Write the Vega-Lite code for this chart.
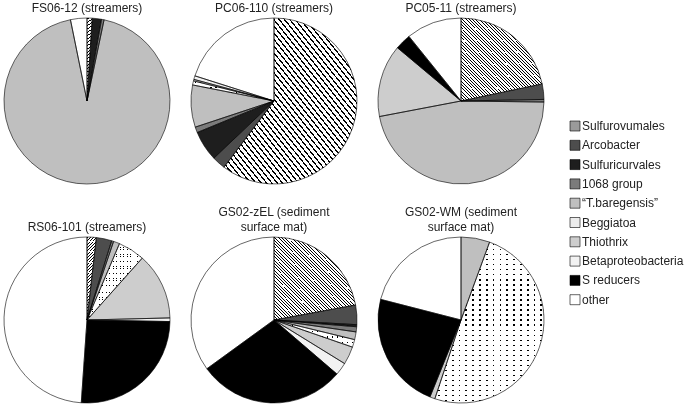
{
  "$schema": "https://vega.github.io/schema/vega-lite/v6.json",
  "padding": {"left": 2, "top": -14, "right": 0, "bottom": 0},
  "background": "white",
  "data": {"values": [
    {"sample": "FS06-12 (streamers)", "group": "Sulfurovumales", "k": 1, "value": 1.0},
    {"sample": "FS06-12 (streamers)", "group": "Sulfuricurvales", "k": 3, "value": 1.8},
    {"sample": "FS06-12 (streamers)", "group": "1068 group", "k": 4, "value": 0.5},
    {"sample": "FS06-12 (streamers)", "group": "“T.baregensis”", "k": 5, "value": 93.5},
    {"sample": "FS06-12 (streamers)", "group": "other", "k": 10, "value": 3.2},
    {"sample": "PC06-110 (streamers)", "group": "Sulfurovumales", "k": 1, "value": 60.3},
    {"sample": "PC06-110 (streamers)", "group": "Arcobacter", "k": 2, "value": 2.6},
    {"sample": "PC06-110 (streamers)", "group": "Sulfuricurvales", "k": 3, "value": 5.9},
    {"sample": "PC06-110 (streamers)", "group": "1068 group", "k": 4, "value": 1.1},
    {"sample": "PC06-110 (streamers)", "group": "“T.baregensis”", "k": 5, "value": 8.2},
    {"sample": "PC06-110 (streamers)", "group": "Beggiatoa", "k": 6, "value": 0.8},
    {"sample": "PC06-110 (streamers)", "group": "Thiothrix", "k": 7, "value": 0.3},
    {"sample": "PC06-110 (streamers)", "group": "Betaproteobacteria", "k": 8, "value": 0.7},
    {"sample": "PC06-110 (streamers)", "group": "other", "k": 10, "value": 20.1},
    {"sample": "PC05-11 (streamers)", "group": "Sulfurovumales", "k": 1, "value": 21.7},
    {"sample": "PC05-11 (streamers)", "group": "Arcobacter", "k": 2, "value": 3.0},
    {"sample": "PC05-11 (streamers)", "group": "1068 group", "k": 4, "value": 0.5},
    {"sample": "PC05-11 (streamers)", "group": "“T.baregensis”", "k": 5, "value": 46.8},
    {"sample": "PC05-11 (streamers)", "group": "Thiothrix", "k": 7, "value": 14.1},
    {"sample": "PC05-11 (streamers)", "group": "S reducers", "k": 9, "value": 3.1},
    {"sample": "PC05-11 (streamers)", "group": "other", "k": 10, "value": 10.8},
    {"sample": "RS06-101 (streamers)", "group": "Sulfurovumales", "k": 1, "value": 1.8},
    {"sample": "RS06-101 (streamers)", "group": "Arcobacter", "k": 2, "value": 3.0},
    {"sample": "RS06-101 (streamers)", "group": "1068 group", "k": 4, "value": 0.4},
    {"sample": "RS06-101 (streamers)", "group": "“T.baregensis”", "k": 5, "value": 1.2},
    {"sample": "RS06-101 (streamers)", "group": "Beggiatoa", "k": 6, "value": 5.2},
    {"sample": "RS06-101 (streamers)", "group": "Thiothrix", "k": 7, "value": 13.0},
    {"sample": "RS06-101 (streamers)", "group": "Betaproteobacteria", "k": 8, "value": 0.7},
    {"sample": "RS06-101 (streamers)", "group": "S reducers", "k": 9, "value": 25.8},
    {"sample": "RS06-101 (streamers)", "group": "other", "k": 10, "value": 48.9},
    {"sample": "GS02-zEL (sediment|surface mat)", "group": "Sulfurovumales", "k": 1, "value": 22.1},
    {"sample": "GS02-zEL (sediment|surface mat)", "group": "Arcobacter", "k": 2, "value": 3.8},
    {"sample": "GS02-zEL (sediment|surface mat)", "group": "Sulfuricurvales", "k": 3, "value": 0.4},
    {"sample": "GS02-zEL (sediment|surface mat)", "group": "1068 group", "k": 4, "value": 1.0},
    {"sample": "GS02-zEL (sediment|surface mat)", "group": "“T.baregensis”", "k": 5, "value": 1.5},
    {"sample": "GS02-zEL (sediment|surface mat)", "group": "Beggiatoa", "k": 6, "value": 1.5},
    {"sample": "GS02-zEL (sediment|surface mat)", "group": "Thiothrix", "k": 7, "value": 3.5},
    {"sample": "GS02-zEL (sediment|surface mat)", "group": "Betaproteobacteria", "k": 8, "value": 2.5},
    {"sample": "GS02-zEL (sediment|surface mat)", "group": "S reducers", "k": 9, "value": 28.7},
    {"sample": "GS02-zEL (sediment|surface mat)", "group": "other", "k": 10, "value": 35.0},
    {"sample": "GS02-WM (sediment|surface mat)", "group": "“T.baregensis”", "k": 5, "value": 5.6},
    {"sample": "GS02-WM (sediment|surface mat)", "group": "Beggiatoa", "k": 6, "value": 49.5},
    {"sample": "GS02-WM (sediment|surface mat)", "group": "Thiothrix", "k": 7, "value": 1.0},
    {"sample": "GS02-WM (sediment|surface mat)", "group": "S reducers", "k": 9, "value": 22.9},
    {"sample": "GS02-WM (sediment|surface mat)", "group": "other", "k": 10, "value": 21.0}
  ]},
  "facet": {
    "field": "sample",
    "type": "nominal",
    "sort": ["FS06-12 (streamers)", "PC06-110 (streamers)", "PC05-11 (streamers)", "RS06-101 (streamers)", "GS02-zEL (sediment|surface mat)", "GS02-WM (sediment|surface mat)"],
    "header": {
      "title": null,
      "labelFont": "Liberation Sans",
      "labelFontSize": 12,
      "labelFontWeight": "normal",
      "labelColor": "#222",
      "labelBaseline": "bottom",
      "labelLineHeight": 15,
      "labelPadding": -10,
      "labelExpr": "indexof(datum.value, '|') < 0 ? ['', datum.value] : split(datum.value, '|')"
    }
  },
  "columns": 3,
  "bounds": "flush",
  "spacing": {"column": 21, "row": 53},
  "spec": {
    "width": 166,
    "height": 166,
    "transform": [
      {"stack": "value", "groupby": ["sample"], "sort": [{"field": "k", "order": "ascending"}], "as": ["v0", "v1"]}
    ],
    "layer": [
      {
        "mark": {"type": "arc", "strokeWidth": 0},
        "encoding": {
          "theta": {"field": "v0", "type": "quantitative", "scale": {"domain": [0, 100]}},
          "theta2": {"field": "v1"},
          "fill": {
            "field": "group",
            "type": "nominal",
            "scale": {
              "domain": ["Sulfurovumales", "Arcobacter", "Sulfuricurvales", "1068 group", "“T.baregensis”", "Beggiatoa", "Thiothrix", "Betaproteobacteria", "S reducers", "other"],
              "range": ["#9a9a9a", "#4d4d4d", "#1e1e1e", "#7b7b7b", "#bfbfbf", "#ececec", "#cdcdcd", "#f2f2f2", "#000000", "#ffffff"]
            },
            "legend": {
              "title": null,
              "orient": "none",
              "legendX": 565,
              "legendY": 102,
              "symbolType": "square",
              "symbolSize": 100,
              "symbolStrokeColor": "black",
              "symbolStrokeWidth": 0.6,
              "labelFont": "Liberation Sans",
              "labelFontSize": 12,
              "labelColor": "#222",
              "labelOffset": 1,
              "rowPadding": 5.3
            }
          }
        }
      },
      {
        "transform": [{"filter": "datum.group === 'Sulfurovumales'"}],
        "mark": {"type": "arc", "strokeWidth": 0,
          "fill": {"gradient": "linear", "x1": 0, "y1": 1, "x2": 1, "y2": 0, "stops": [
              {"offset": 0, "color": "#000"}, {"offset": 0.006, "color": "#000"}, {"offset": 0.006, "color": "#fff"}, {"offset": 0.02, "color": "#fff"},
              {"offset": 0.02, "color": "#000"}, {"offset": 0.026, "color": "#000"}, {"offset": 0.026, "color": "#fff"}, {"offset": 0.04, "color": "#fff"},
              {"offset": 0.04, "color": "#000"}, {"offset": 0.046, "color": "#000"}, {"offset": 0.046, "color": "#fff"}, {"offset": 0.06, "color": "#fff"},
              {"offset": 0.06, "color": "#000"}, {"offset": 0.066, "color": "#000"}, {"offset": 0.066, "color": "#fff"}, {"offset": 0.08, "color": "#fff"},
              {"offset": 0.08, "color": "#000"}, {"offset": 0.086, "color": "#000"}, {"offset": 0.086, "color": "#fff"}, {"offset": 0.1, "color": "#fff"},
              {"offset": 0.1, "color": "#000"}, {"offset": 0.106, "color": "#000"}, {"offset": 0.106, "color": "#fff"}, {"offset": 0.12, "color": "#fff"},
              {"offset": 0.12, "color": "#000"}, {"offset": 0.126, "color": "#000"}, {"offset": 0.126, "color": "#fff"}, {"offset": 0.14, "color": "#fff"},
              {"offset": 0.14, "color": "#000"}, {"offset": 0.146, "color": "#000"}, {"offset": 0.146, "color": "#fff"}, {"offset": 0.16, "color": "#fff"},
              {"offset": 0.16, "color": "#000"}, {"offset": 0.166, "color": "#000"}, {"offset": 0.166, "color": "#fff"}, {"offset": 0.18, "color": "#fff"},
              {"offset": 0.18, "color": "#000"}, {"offset": 0.186, "color": "#000"}, {"offset": 0.186, "color": "#fff"}, {"offset": 0.2, "color": "#fff"},
              {"offset": 0.2, "color": "#000"}, {"offset": 0.206, "color": "#000"}, {"offset": 0.206, "color": "#fff"}, {"offset": 0.22, "color": "#fff"},
              {"offset": 0.22, "color": "#000"}, {"offset": 0.226, "color": "#000"}, {"offset": 0.226, "color": "#fff"}, {"offset": 0.24, "color": "#fff"},
              {"offset": 0.24, "color": "#000"}, {"offset": 0.246, "color": "#000"}, {"offset": 0.246, "color": "#fff"}, {"offset": 0.26, "color": "#fff"},
              {"offset": 0.26, "color": "#000"}, {"offset": 0.266, "color": "#000"}, {"offset": 0.266, "color": "#fff"}, {"offset": 0.28, "color": "#fff"},
              {"offset": 0.28, "color": "#000"}, {"offset": 0.286, "color": "#000"}, {"offset": 0.286, "color": "#fff"}, {"offset": 0.3, "color": "#fff"},
              {"offset": 0.3, "color": "#000"}, {"offset": 0.306, "color": "#000"}, {"offset": 0.306, "color": "#fff"}, {"offset": 0.32, "color": "#fff"},
              {"offset": 0.32, "color": "#000"}, {"offset": 0.326, "color": "#000"}, {"offset": 0.326, "color": "#fff"}, {"offset": 0.34, "color": "#fff"},
              {"offset": 0.34, "color": "#000"}, {"offset": 0.346, "color": "#000"}, {"offset": 0.346, "color": "#fff"}, {"offset": 0.36, "color": "#fff"},
              {"offset": 0.36, "color": "#000"}, {"offset": 0.366, "color": "#000"}, {"offset": 0.366, "color": "#fff"}, {"offset": 0.38, "color": "#fff"},
              {"offset": 0.38, "color": "#000"}, {"offset": 0.386, "color": "#000"}, {"offset": 0.386, "color": "#fff"}, {"offset": 0.4, "color": "#fff"},
              {"offset": 0.4, "color": "#000"}, {"offset": 0.406, "color": "#000"}, {"offset": 0.406, "color": "#fff"}, {"offset": 0.42, "color": "#fff"},
              {"offset": 0.42, "color": "#000"}, {"offset": 0.426, "color": "#000"}, {"offset": 0.426, "color": "#fff"}, {"offset": 0.44, "color": "#fff"},
              {"offset": 0.44, "color": "#000"}, {"offset": 0.446, "color": "#000"}, {"offset": 0.446, "color": "#fff"}, {"offset": 0.46, "color": "#fff"},
              {"offset": 0.46, "color": "#000"}, {"offset": 0.466, "color": "#000"}, {"offset": 0.466, "color": "#fff"}, {"offset": 0.48, "color": "#fff"},
              {"offset": 0.48, "color": "#000"}, {"offset": 0.486, "color": "#000"}, {"offset": 0.486, "color": "#fff"}, {"offset": 0.5, "color": "#fff"},
              {"offset": 0.5, "color": "#000"}, {"offset": 0.506, "color": "#000"}, {"offset": 0.506, "color": "#fff"}, {"offset": 0.52, "color": "#fff"},
              {"offset": 0.52, "color": "#000"}, {"offset": 0.526, "color": "#000"}, {"offset": 0.526, "color": "#fff"}, {"offset": 0.54, "color": "#fff"},
              {"offset": 0.54, "color": "#000"}, {"offset": 0.546, "color": "#000"}, {"offset": 0.546, "color": "#fff"}, {"offset": 0.56, "color": "#fff"},
              {"offset": 0.56, "color": "#000"}, {"offset": 0.566, "color": "#000"}, {"offset": 0.566, "color": "#fff"}, {"offset": 0.58, "color": "#fff"},
              {"offset": 0.58, "color": "#000"}, {"offset": 0.586, "color": "#000"}, {"offset": 0.586, "color": "#fff"}, {"offset": 0.6, "color": "#fff"},
              {"offset": 0.6, "color": "#000"}, {"offset": 0.606, "color": "#000"}, {"offset": 0.606, "color": "#fff"}, {"offset": 0.62, "color": "#fff"},
              {"offset": 0.62, "color": "#000"}, {"offset": 0.626, "color": "#000"}, {"offset": 0.626, "color": "#fff"}, {"offset": 0.64, "color": "#fff"},
              {"offset": 0.64, "color": "#000"}, {"offset": 0.646, "color": "#000"}, {"offset": 0.646, "color": "#fff"}, {"offset": 0.66, "color": "#fff"},
              {"offset": 0.66, "color": "#000"}, {"offset": 0.666, "color": "#000"}, {"offset": 0.666, "color": "#fff"}, {"offset": 0.68, "color": "#fff"},
              {"offset": 0.68, "color": "#000"}, {"offset": 0.686, "color": "#000"}, {"offset": 0.686, "color": "#fff"}, {"offset": 0.7, "color": "#fff"},
              {"offset": 0.7, "color": "#000"}, {"offset": 0.706, "color": "#000"}, {"offset": 0.706, "color": "#fff"}, {"offset": 0.72, "color": "#fff"},
              {"offset": 0.72, "color": "#000"}, {"offset": 0.726, "color": "#000"}, {"offset": 0.726, "color": "#fff"}, {"offset": 0.74, "color": "#fff"},
              {"offset": 0.74, "color": "#000"}, {"offset": 0.746, "color": "#000"}, {"offset": 0.746, "color": "#fff"}, {"offset": 0.76, "color": "#fff"},
              {"offset": 0.76, "color": "#000"}, {"offset": 0.766, "color": "#000"}, {"offset": 0.766, "color": "#fff"}, {"offset": 0.78, "color": "#fff"},
              {"offset": 0.78, "color": "#000"}, {"offset": 0.786, "color": "#000"}, {"offset": 0.786, "color": "#fff"}, {"offset": 0.8, "color": "#fff"},
              {"offset": 0.8, "color": "#000"}, {"offset": 0.806, "color": "#000"}, {"offset": 0.806, "color": "#fff"}, {"offset": 0.82, "color": "#fff"},
              {"offset": 0.82, "color": "#000"}, {"offset": 0.826, "color": "#000"}, {"offset": 0.826, "color": "#fff"}, {"offset": 0.84, "color": "#fff"},
              {"offset": 0.84, "color": "#000"}, {"offset": 0.846, "color": "#000"}, {"offset": 0.846, "color": "#fff"}, {"offset": 0.86, "color": "#fff"},
              {"offset": 0.86, "color": "#000"}, {"offset": 0.866, "color": "#000"}, {"offset": 0.866, "color": "#fff"}, {"offset": 0.88, "color": "#fff"},
              {"offset": 0.88, "color": "#000"}, {"offset": 0.886, "color": "#000"}, {"offset": 0.886, "color": "#fff"}, {"offset": 0.9, "color": "#fff"},
              {"offset": 0.9, "color": "#000"}, {"offset": 0.906, "color": "#000"}, {"offset": 0.906, "color": "#fff"}, {"offset": 0.92, "color": "#fff"},
              {"offset": 0.92, "color": "#000"}, {"offset": 0.926, "color": "#000"}, {"offset": 0.926, "color": "#fff"}, {"offset": 0.94, "color": "#fff"},
              {"offset": 0.94, "color": "#000"}, {"offset": 0.946, "color": "#000"}, {"offset": 0.946, "color": "#fff"}, {"offset": 0.96, "color": "#fff"},
              {"offset": 0.96, "color": "#000"}, {"offset": 0.966, "color": "#000"}, {"offset": 0.966, "color": "#fff"}, {"offset": 0.98, "color": "#fff"},
              {"offset": 0.98, "color": "#000"}, {"offset": 0.986, "color": "#000"}, {"offset": 0.986, "color": "#fff"}, {"offset": 1, "color": "#fff"}
          ]}
        },
        "encoding": {
          "theta": {"field": "v0", "type": "quantitative", "scale": {"domain": [0, 100]}},
          "theta2": {"field": "v1"}
        }
      },
      {
        "transform": [{"filter": "datum.group === 'Beggiatoa'"}],
        "mark": {"type": "arc", "strokeWidth": 0,
          "fill": {"gradient": "linear", "x1": 0, "y1": 0, "x2": 0, "y2": 1, "stops": [
              {"offset": 0, "color": "#fff"}, {"offset": 0.012, "color": "#fff"}, {"offset": 0.012, "color": "#000"}, {"offset": 0.02, "color": "#000"}, {"offset": 0.02, "color": "#fff"},
              {"offset": 0.04325, "color": "#fff"}, {"offset": 0.04325, "color": "#000"}, {"offset": 0.05125, "color": "#000"}, {"offset": 0.05125, "color": "#fff"},
              {"offset": 0.0745, "color": "#fff"}, {"offset": 0.0745, "color": "#000"}, {"offset": 0.0825, "color": "#000"}, {"offset": 0.0825, "color": "#fff"},
              {"offset": 0.10575, "color": "#fff"}, {"offset": 0.10575, "color": "#000"}, {"offset": 0.11375, "color": "#000"}, {"offset": 0.11375, "color": "#fff"},
              {"offset": 0.137, "color": "#fff"}, {"offset": 0.137, "color": "#000"}, {"offset": 0.145, "color": "#000"}, {"offset": 0.145, "color": "#fff"},
              {"offset": 0.16825, "color": "#fff"}, {"offset": 0.16825, "color": "#000"}, {"offset": 0.17625, "color": "#000"}, {"offset": 0.17625, "color": "#fff"},
              {"offset": 0.1995, "color": "#fff"}, {"offset": 0.1995, "color": "#000"}, {"offset": 0.2075, "color": "#000"}, {"offset": 0.2075, "color": "#fff"},
              {"offset": 0.23075, "color": "#fff"}, {"offset": 0.23075, "color": "#000"}, {"offset": 0.23875, "color": "#000"}, {"offset": 0.23875, "color": "#fff"},
              {"offset": 0.262, "color": "#fff"}, {"offset": 0.262, "color": "#000"}, {"offset": 0.27, "color": "#000"}, {"offset": 0.27, "color": "#fff"},
              {"offset": 0.29325, "color": "#fff"}, {"offset": 0.29325, "color": "#000"}, {"offset": 0.30125, "color": "#000"}, {"offset": 0.30125, "color": "#fff"},
              {"offset": 0.3245, "color": "#fff"}, {"offset": 0.3245, "color": "#000"}, {"offset": 0.3325, "color": "#000"}, {"offset": 0.3325, "color": "#fff"},
              {"offset": 0.35575, "color": "#fff"}, {"offset": 0.35575, "color": "#000"}, {"offset": 0.36375, "color": "#000"}, {"offset": 0.36375, "color": "#fff"},
              {"offset": 0.387, "color": "#fff"}, {"offset": 0.387, "color": "#000"}, {"offset": 0.395, "color": "#000"}, {"offset": 0.395, "color": "#fff"},
              {"offset": 0.41825, "color": "#fff"}, {"offset": 0.41825, "color": "#000"}, {"offset": 0.42625, "color": "#000"}, {"offset": 0.42625, "color": "#fff"},
              {"offset": 0.4495, "color": "#fff"}, {"offset": 0.4495, "color": "#000"}, {"offset": 0.4575, "color": "#000"}, {"offset": 0.4575, "color": "#fff"},
              {"offset": 0.48075, "color": "#fff"}, {"offset": 0.48075, "color": "#000"}, {"offset": 0.48875, "color": "#000"}, {"offset": 0.48875, "color": "#fff"},
              {"offset": 0.512, "color": "#fff"}, {"offset": 0.512, "color": "#000"}, {"offset": 0.52, "color": "#000"}, {"offset": 0.52, "color": "#fff"},
              {"offset": 0.54325, "color": "#fff"}, {"offset": 0.54325, "color": "#000"}, {"offset": 0.55125, "color": "#000"}, {"offset": 0.55125, "color": "#fff"},
              {"offset": 0.5745, "color": "#fff"}, {"offset": 0.5745, "color": "#000"}, {"offset": 0.5825, "color": "#000"}, {"offset": 0.5825, "color": "#fff"},
              {"offset": 0.60575, "color": "#fff"}, {"offset": 0.60575, "color": "#000"}, {"offset": 0.61375, "color": "#000"}, {"offset": 0.61375, "color": "#fff"},
              {"offset": 0.637, "color": "#fff"}, {"offset": 0.637, "color": "#000"}, {"offset": 0.645, "color": "#000"}, {"offset": 0.645, "color": "#fff"},
              {"offset": 0.66825, "color": "#fff"}, {"offset": 0.66825, "color": "#000"}, {"offset": 0.67625, "color": "#000"}, {"offset": 0.67625, "color": "#fff"},
              {"offset": 0.6995, "color": "#fff"}, {"offset": 0.6995, "color": "#000"}, {"offset": 0.7075, "color": "#000"}, {"offset": 0.7075, "color": "#fff"},
              {"offset": 0.73075, "color": "#fff"}, {"offset": 0.73075, "color": "#000"}, {"offset": 0.73875, "color": "#000"}, {"offset": 0.73875, "color": "#fff"},
              {"offset": 0.762, "color": "#fff"}, {"offset": 0.762, "color": "#000"}, {"offset": 0.77, "color": "#000"}, {"offset": 0.77, "color": "#fff"},
              {"offset": 0.79325, "color": "#fff"}, {"offset": 0.79325, "color": "#000"}, {"offset": 0.80125, "color": "#000"}, {"offset": 0.80125, "color": "#fff"},
              {"offset": 0.8245, "color": "#fff"}, {"offset": 0.8245, "color": "#000"}, {"offset": 0.8325, "color": "#000"}, {"offset": 0.8325, "color": "#fff"},
              {"offset": 0.85575, "color": "#fff"}, {"offset": 0.85575, "color": "#000"}, {"offset": 0.86375, "color": "#000"}, {"offset": 0.86375, "color": "#fff"},
              {"offset": 0.887, "color": "#fff"}, {"offset": 0.887, "color": "#000"}, {"offset": 0.895, "color": "#000"}, {"offset": 0.895, "color": "#fff"},
              {"offset": 0.91825, "color": "#fff"}, {"offset": 0.91825, "color": "#000"}, {"offset": 0.92625, "color": "#000"}, {"offset": 0.92625, "color": "#fff"},
              {"offset": 0.9495, "color": "#fff"}, {"offset": 0.9495, "color": "#000"}, {"offset": 0.9575, "color": "#000"}, {"offset": 0.9575, "color": "#fff"},
              {"offset": 0.98075, "color": "#fff"}, {"offset": 0.98075, "color": "#000"}, {"offset": 0.98875, "color": "#000"}, {"offset": 0.98875, "color": "#fff"},
              {"offset": 1, "color": "#fff"}
          ]}
        },
        "encoding": {
          "theta": {"field": "v0", "type": "quantitative", "scale": {"domain": [0, 100]}},
          "theta2": {"field": "v1"}
        }
      },
      {
        "transform": [{"filter": "datum.group === 'Beggiatoa'"}],
        "mark": {"type": "arc", "strokeWidth": 0, "blend": "screen",
          "fill": {"gradient": "linear", "x1": 0, "y1": 0, "x2": 1, "y2": 0, "stops": [
              {"offset": 0, "color": "#fff"}, {"offset": 0.03, "color": "#fff"}, {"offset": 0.03, "color": "#000"}, {"offset": 0.046, "color": "#000"}, {"offset": 0.046, "color": "#fff"},
              {"offset": 0.0925, "color": "#fff"}, {"offset": 0.0925, "color": "#000"}, {"offset": 0.1085, "color": "#000"}, {"offset": 0.1085, "color": "#fff"},
              {"offset": 0.155, "color": "#fff"}, {"offset": 0.155, "color": "#000"}, {"offset": 0.171, "color": "#000"}, {"offset": 0.171, "color": "#fff"},
              {"offset": 0.2175, "color": "#fff"}, {"offset": 0.2175, "color": "#000"}, {"offset": 0.2335, "color": "#000"}, {"offset": 0.2335, "color": "#fff"},
              {"offset": 0.28, "color": "#fff"}, {"offset": 0.28, "color": "#000"}, {"offset": 0.296, "color": "#000"}, {"offset": 0.296, "color": "#fff"},
              {"offset": 0.3425, "color": "#fff"}, {"offset": 0.3425, "color": "#000"}, {"offset": 0.3585, "color": "#000"}, {"offset": 0.3585, "color": "#fff"},
              {"offset": 0.405, "color": "#fff"}, {"offset": 0.405, "color": "#000"}, {"offset": 0.421, "color": "#000"}, {"offset": 0.421, "color": "#fff"},
              {"offset": 0.4675, "color": "#fff"}, {"offset": 0.4675, "color": "#000"}, {"offset": 0.4835, "color": "#000"}, {"offset": 0.4835, "color": "#fff"},
              {"offset": 0.53, "color": "#fff"}, {"offset": 0.53, "color": "#000"}, {"offset": 0.546, "color": "#000"}, {"offset": 0.546, "color": "#fff"},
              {"offset": 0.5925, "color": "#fff"}, {"offset": 0.5925, "color": "#000"}, {"offset": 0.6085, "color": "#000"}, {"offset": 0.6085, "color": "#fff"},
              {"offset": 0.655, "color": "#fff"}, {"offset": 0.655, "color": "#000"}, {"offset": 0.671, "color": "#000"}, {"offset": 0.671, "color": "#fff"},
              {"offset": 0.7175, "color": "#fff"}, {"offset": 0.7175, "color": "#000"}, {"offset": 0.7335, "color": "#000"}, {"offset": 0.7335, "color": "#fff"},
              {"offset": 0.78, "color": "#fff"}, {"offset": 0.78, "color": "#000"}, {"offset": 0.796, "color": "#000"}, {"offset": 0.796, "color": "#fff"},
              {"offset": 0.8425, "color": "#fff"}, {"offset": 0.8425, "color": "#000"}, {"offset": 0.8585, "color": "#000"}, {"offset": 0.8585, "color": "#fff"},
              {"offset": 0.905, "color": "#fff"}, {"offset": 0.905, "color": "#000"}, {"offset": 0.921, "color": "#000"}, {"offset": 0.921, "color": "#fff"},
              {"offset": 0.9675, "color": "#fff"}, {"offset": 0.9675, "color": "#000"}, {"offset": 0.9835, "color": "#000"}, {"offset": 0.9835, "color": "#fff"},
              {"offset": 1, "color": "#fff"}
          ]}
        },
        "encoding": {
          "theta": {"field": "v0", "type": "quantitative", "scale": {"domain": [0, 100]}},
          "theta2": {"field": "v1"}
        }
      },
      {
        "mark": {"type": "arc", "filled": false, "stroke": "black", "strokeWidth": 0.6},
        "encoding": {
          "theta": {"field": "v0", "type": "quantitative", "scale": {"domain": [0, 100]}},
          "theta2": {"field": "v1"}
        }
      }
    ]
  },
  "config": {
    "view": {"stroke": null},
    "font": "Liberation Sans"
  }
}
